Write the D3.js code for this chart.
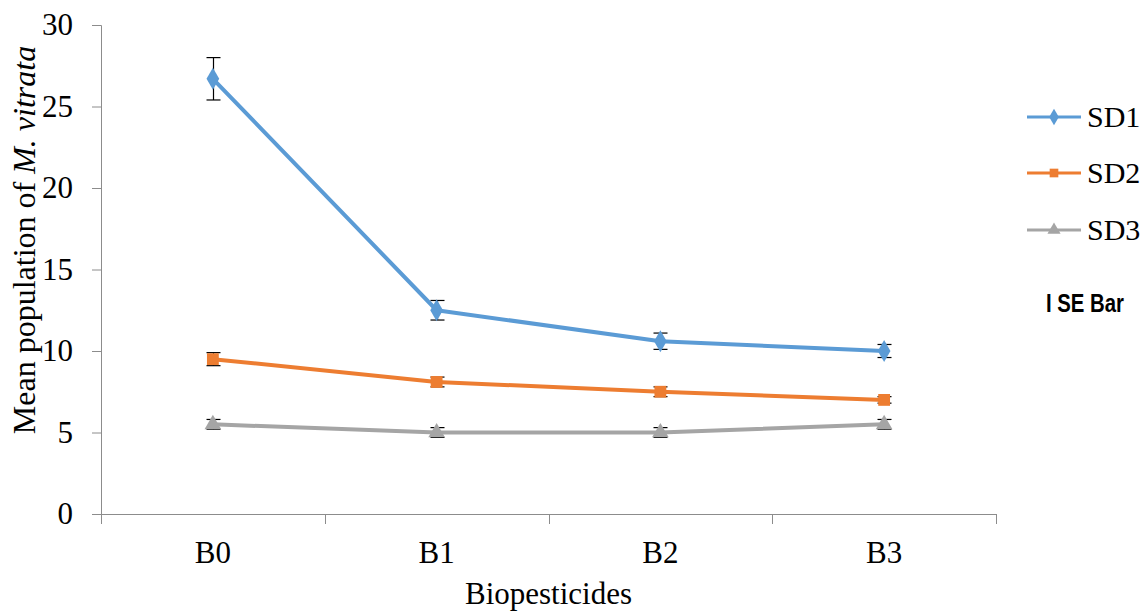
<!DOCTYPE html>
<meta charset="utf-8">
<head>
<title>Mean population of M. vitrata</title>
<script src="https://d3js.org/d3.v7.min.js"></script>
<style>
  body { margin: 0; background: #fff; }
  text { font-family: "Liberation Serif", "Times New Roman", serif; fill: #000; }
</style>
</head>
<body>
<div id="chart"></div>
<script>
  // data
  var categories = ["B0", "B1", "B2", "B3"];
  var seriesNames = ["SD1", "SD2", "SD3"];
  var sd1 = [26.7, 12.5, 10.6, 10.0];
  var sd2 = [9.5, 8.1, 7.5, 7.0];
  var sd3 = [5.5, 5.0, 5.0, 5.5];
  var sd1Err = [1.3, 0.6, 0.5, 0.4];
  var sd2Err = [0.4, 0.3, 0.3, 0.2];
  var sd3Err = [0.3, 0.3, 0.3, 0.3];
  var yTicks = [0, 5, 10, 15, 20, 25, 30];

  var colors = ["#5B9BD5", "#ED7D31", "#A5A5A5"];
  var symbols = [d3.symbolDiamond, d3.symbolSquare, d3.symbolTriangle];
  var symSize = [140, 140, 120];

  var series = [
    {name: seriesNames[0], values: sd1, err: sd1Err},
    {name: seriesNames[1], values: sd2, err: sd2Err},
    {name: seriesNames[2], values: sd3, err: sd3Err}
  ];

  var W = 1148, H = 616;
  var margin = {top: 25, right: 152, bottom: 102, left: 101},
      width = W - margin.left - margin.right,
      height = H - margin.top - margin.bottom;

  var svg = d3.select("#chart").append("svg")
      .attr("width", W).attr("height", H)
    .append("g")
      .attr("transform", "translate(" + margin.left + "," + margin.top + ")");

  var x = d3.scaleBand().domain(categories).range([0, width]);
  var y = d3.scaleLinear().domain([0, 30]).range([height, 0]);

  // y axis
  var yAxis = svg.append("g")
      .call(d3.axisLeft(y).tickValues(yTicks).tickSize(9).tickPadding(19));
  yAxis.selectAll("text").style("font-size", "31px").style("font-family", "Liberation Serif");
  yAxis.selectAll("line, path").attr("stroke", "#8c8c8c");
  yAxis.select(".domain").attr("d", "M0.5," + height + "V0.5H-9");

  // x axis: ticks between categories
  var xg = svg.append("g").attr("transform", "translate(0," + height + ")");
  xg.append("line").attr("x1", -9).attr("x2", width).attr("y1", 0.5).attr("y2", 0.5)
    .attr("stroke", "#8c8c8c");
  var bounds = categories.map(function(c) { return x(c); }).concat([width]);
  xg.selectAll(".tk").data(bounds).enter().append("line")
    .attr("x1", function(d) { return Math.round(d) + 0.5; })
    .attr("x2", function(d) { return Math.round(d) + 0.5; })
    .attr("y1", 0).attr("y2", 10)
    .attr("stroke", "#8c8c8c");
  xg.selectAll(".lbl").data(categories).enter().append("text")
    .attr("x", function(d) { return x(d) + x.bandwidth() / 2; })
    .attr("y", 49)
    .attr("text-anchor", "middle")
    .style("font-size", "31px")
    .text(function(d) { return d; });

  // axis titles
  svg.append("text")
    .attr("x", width / 2)
    .attr("y", height + 90)
    .attr("text-anchor", "middle")
    .style("font-size", "31px")
    .text("Biopesticides");

  var yt = svg.append("text")
    .attr("transform", "translate(" + (-66) + "," + 215 + ") rotate(-90)")
    .attr("text-anchor", "middle")
    .style("font-size", "32px");
  yt.append("tspan").text("Mean population of ");
  yt.append("tspan").style("font-style", "italic").text("M. vitrata");

  var cx = function(i) { return x(categories[i]) + x.bandwidth() / 2; };
  var line = d3.line()
    .x(function(d, i) { return cx(i); })
    .y(function(d) { return y(d); });

  series.forEach(function(s, k) {
    var g = svg.append("g");
    g.append("path")
      .datum(s.values)
      .attr("d", line)
      .attr("fill", "none")
      .attr("stroke", colors[k])
      .attr("stroke-width", 4)
      .attr("stroke-linejoin", "round");

    // error bars
    s.values.forEach(function(v, i) {
      var xx = Math.round(cx(i)) + 0.5;
      var hi = y(v + s.err[i]), lo = y(v - s.err[i]);
      g.append("line").attr("x1", xx).attr("x2", xx).attr("y1", hi).attr("y2", lo)
        .attr("stroke", "#000").attr("stroke-width", 1.2);
      [hi, lo].forEach(function(yy) {
        g.append("line").attr("x1", xx - 7).attr("x2", xx + 7).attr("y1", yy).attr("y2", yy)
          .attr("stroke", "#000").attr("stroke-width", 1.2);
      });
    });

    g.selectAll(".m").data(s.values).enter().append("path")
      .attr("transform", function(d, i) { return "translate(" + cx(i) + "," + y(d) + ")"; })
      .attr("d", d3.symbol().type(symbols[k]).size(symSize[k]))
      .attr("fill", colors[k]);
  });

  // legend
  var leg = svg.append("g").attr("transform", "translate(" + (width + 31) + ",0)");
  var legY = [92, 148, 205];
  series.forEach(function(s, k) {
    var r = leg.append("g").attr("transform", "translate(0," + legY[k] + ")");
    r.append("line").attr("x1", 0).attr("x2", 54).attr("y1", 0).attr("y2", 0)
      .attr("stroke", colors[k]).attr("stroke-width", 3);
    r.append("path").attr("transform", "translate(27,0)")
      .attr("d", d3.symbol().type(symbols[k]).size(k === 0 ? 80 : 75))
      .attr("fill", colors[k]);
    r.append("text").attr("x", 60).attr("y", 10)
      .style("font-size", "30px")
      .text(s.name);
  });
  leg.append("text")
    .attr("x", 19).attr("y", 287)
    .attr("textLength", 78)
    .attr("lengthAdjust", "spacingAndGlyphs")
    .style("font-family", "'Liberation Sans Narrow', 'Liberation Sans', sans-serif")
    .style("font-weight", "bold")
    .style("font-size", "26px")
    .text("I SE Bar");
</script>
</body>
